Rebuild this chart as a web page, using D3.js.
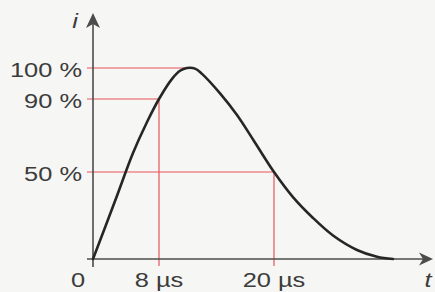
<!DOCTYPE html>
<html>
<head>
<meta charset="utf-8">
<script src="https://cdn.jsdelivr.net/npm/d3@7"></script>
<style>
  html, body { margin: 0; padding: 0; background: #f6f6f4; }
  svg { display: block; }
</style>
</head>
<body>
<div id="chart"></div>
<script>
"use strict";

// impulse current 8/20 µs (time in µs, current in % of peak)
const timeUs = [0, 2.67, 4.85, 6.55, 8, 9.36, 10.19, 10.92, 11.76, 12.49, 14.37, 16.14, 17.91, 20, 21.98, 24.07, 26.16, 28.66, 30.75, 32.42];
const currentPct = [0, 33.3, 60.4, 77.4, 90, 96.5, 99.1, 100, 99.8, 98.1, 91.8, 81.2, 67.0, 50, 35.6, 23.6, 13.5, 5.2, 1.3, 0];

// marked points, with red guide lines
const markTime = [8, 10.92, 20];
const markPct = [90, 100, 50];

// tick labels
const yTicks = [100, 90, 50];
const yTickLabels = ["100 %", "90 %", "50 %"];
const xTicks = [0, 8, 20];
const xTickLabels = ["0", "8 µs", "20 µs"];

const width = 435, height = 292;
const stretch = 1.27; // the scan is widened horizontally, text too

const svg = d3.select("#chart").append("svg")
    .attr("width", width)
    .attr("height", height);

svg.append("rect").attr("width", width).attr("height", height).attr("fill", "#f6f6f4");

// the drawing is schematic, so the scales are piecewise linear through the ticks
const x = d3.scaleLinear().domain([0, 8, 20]).range([93, 159, 274]);
const y = d3.scaleLinear().domain([0, 50, 90, 100]).range([259, 172, 99, 68]);

const axisColor = "#4c4c4c";
const red = "#e8545c";
const textColor = "#3c3c3c";

// red guide lines
const marks = markTime.map((t, i) => ({ t, v: markPct[i] }));
const guides = svg.append("g").attr("stroke", red).attr("stroke-width", 1.2).attr("fill", "none");
marks.forEach(m => {
    guides.append("line")
        .attr("x1", x(0) - 6).attr("x2", x(m.t))
        .attr("y1", y(m.v)).attr("y2", y(m.v));
    if (m.v !== 100) {
        guides.append("line")
            .attr("x1", x(m.t)).attr("x2", x(m.t))
            .attr("y1", y(m.v)).attr("y2", y(0) + 7);
    }
});

// axes
const ax = svg.append("g").attr("stroke", axisColor).attr("stroke-width", 1.6).attr("fill", "none");
ax.append("line").attr("x1", x(0) - 6).attr("x2", 424).attr("y1", y(0)).attr("y2", y(0));
ax.append("line").attr("x1", x(0)).attr("x2", x(0)).attr("y1", y(0) + 8).attr("y2", 22);

// arrow heads
const x0 = x(0), y0 = y(0);
svg.append("path")
    .attr("d", `M${x0},13 L${x0 + 7},28 L${x0},24 L${x0 - 7},28 Z`)
    .attr("fill", axisColor);
svg.append("path")
    .attr("d", `M433,${y0} L419,${y0 - 6.5} L423,${y0} L419,${y0 + 6.5} Z`)
    .attr("fill", axisColor);

// curve
const line = d3.line()
    .x((d, i) => x(timeUs[i]))
    .y(d => y(d))
    .curve(d3.curveCatmullRom.alpha(0.5));

svg.append("path")
    .datum(currentPct)
    .attr("d", line)
    .attr("fill", "none")
    .attr("stroke", "#262626")
    .attr("stroke-width", 2.6)
    .attr("stroke-linecap", "round");

// labels
const font = "'Liberation Sans', Arial, Helvetica, sans-serif";
function label(txt, px, py, anchor, italic) {
    svg.append("text")
        .attr("transform", `translate(${px},${py}) scale(${stretch},1)`)
        .attr("text-anchor", anchor)
        .attr("font-family", font)
        .attr("font-size", 20)
        .attr("font-style", italic ? "italic" : "normal")
        .attr("fill", textColor)
        .text(txt);
}

yTicks.forEach((v, i) => label(yTickLabels[i], 82, y(v) + 9, "end"));
xTicks.forEach((t, i) => label(xTickLabels[i], t === 0 ? x(t) - 15 : x(t), 287, "middle"));

label("i", 75, 28, "middle", true);
label("t", 428, 287, "middle", true);
</script>
</body>
</html>
